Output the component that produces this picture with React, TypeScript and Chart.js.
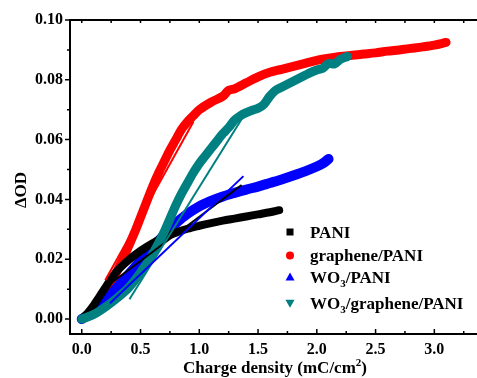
import React, { useEffect, useRef } from "react";
import { Chart, registerables } from "chart.js";

Chart.register(...registerables);

const FONT = '"Liberation Serif", "Times New Roman", serif';

// PANI (black squares)
const paniX = [0, 0.05, 0.1, 0.15, 0.2, 0.25, 0.3, 0.35, 0.4, 0.5, 0.6, 0.7, 0.8, 0.9, 1.0, 1.1, 1.2, 1.3, 1.4, 1.5, 1.6, 1.68];
const paniY = [0, 0.002, 0.0045, 0.0075, 0.0105, 0.0135, 0.016, 0.018, 0.0198, 0.0228, 0.0253, 0.0273, 0.0289, 0.0302, 0.0312, 0.0321, 0.0329, 0.0336, 0.0343, 0.035, 0.0357, 0.0364];

// graphene/PANI (red circles)
const grapheneX = [0, 0.05, 0.1, 0.15, 0.2, 0.25, 0.3, 0.35, 0.4, 0.45, 0.5, 0.55, 0.6, 0.65, 0.7, 0.75, 0.8, 0.85, 0.9, 0.95, 1.0, 1.1, 1.2, 1.25, 1.3, 1.4, 1.5, 1.6, 1.7, 1.8, 1.9, 2.0, 2.1, 2.2, 2.3, 2.4, 2.5, 2.6, 2.7, 2.8, 2.9, 3.0, 3.1];
const grapheneY = [0, 0.0013, 0.003, 0.0055, 0.0085, 0.012, 0.016, 0.02, 0.0245, 0.029, 0.034, 0.039, 0.044, 0.0485, 0.0525, 0.0565, 0.06, 0.0635, 0.066, 0.068, 0.07, 0.0725, 0.0745, 0.0765, 0.077, 0.079, 0.081, 0.0825, 0.0835, 0.0845, 0.0855, 0.0865, 0.0872, 0.0878, 0.0882, 0.0886, 0.089, 0.0896, 0.09, 0.0905, 0.091, 0.0916, 0.0925];

// WO3/PANI (blue triangles)
const wo3X = [0, 0.1, 0.2, 0.3, 0.4, 0.5, 0.6, 0.7, 0.8, 0.9, 1.0, 1.1, 1.2, 1.3, 1.4, 1.5, 1.6, 1.7, 1.8, 1.9, 2.0, 2.05, 2.1];
const wo3Y = [0, 0.0025, 0.006, 0.0105, 0.015, 0.0195, 0.024, 0.028, 0.032, 0.0352, 0.0377, 0.0395, 0.041, 0.0422, 0.0433, 0.0443, 0.0455, 0.0467, 0.048, 0.0494, 0.051, 0.052, 0.0535];

// WO3/graphene/PANI (teal inverted triangles)
const wgpX = [0, 0.1, 0.2, 0.3, 0.4, 0.5, 0.6, 0.7, 0.75, 0.8, 0.85, 0.9, 0.95, 1.0, 1.05, 1.1, 1.15, 1.2, 1.25, 1.3, 1.35, 1.4, 1.45, 1.5, 1.55, 1.6, 1.65, 1.7, 1.75, 1.8, 1.85, 1.9, 1.95, 2.0, 2.05, 2.1, 2.15, 2.2, 2.26];
const wgpY = [0, 0.0015, 0.004, 0.007, 0.0105, 0.0155, 0.0215, 0.029, 0.0335, 0.038, 0.042, 0.0455, 0.049, 0.052, 0.0545, 0.057, 0.0595, 0.062, 0.064, 0.0665, 0.068, 0.069, 0.0698, 0.0705, 0.0718, 0.0745, 0.0765, 0.0775, 0.0785, 0.0795, 0.0805, 0.0815, 0.0825, 0.0833, 0.0838, 0.0855, 0.0853, 0.0868, 0.0878];

// linear fits (endpoints)
const paniFitX = [0.14, 1.36];
const paniFitY = [0.0088, 0.0448];
const grapheneFitX = [0.2, 0.95];
const grapheneFitY = [0.013, 0.066];
const wo3FitX = [0.24, 1.376];
const wo3FitY = [0.0053, 0.0478];
const wgpFitX = [0.406, 1.37];
const wgpFitY = [0.0066, 0.0675];

const legendNames = ["PANI", "graphene/PANI", "WO3/PANI", "WO3/graphene/PANI"];
const legendColors = ["#000000", "#ff0000", "#0000ff", "#008080"];
const legendShapes = ["square", "circle", "triangle", "invtriangle"];

const xMajorTicks = [0, 0.5, 1, 1.5, 2, 2.5, 3];
const xMinorTicks = [0.25, 0.75, 1.25, 1.75, 2.25, 2.75, 3.25];
const yMajorTicks = [0, 0.02, 0.04, 0.06, 0.08, 0.1];
const yMinorTicks = [0.01, 0.03, 0.05, 0.07, 0.09];

const xTitle = "Charge density (mC/cm";
const xTitleSup = "2";
const yTitle = "\u0394OD";

const zip = (xs: number[], ys: number[]) => xs.map((x, i) => ({ x, y: ys[i] }));

function drawRich(ctx: CanvasRenderingContext2D, text: string, x: number, y: number) {
  const big = `bold 17px ${FONT}`;
  const small = `bold 11px ${FONT}`;
  if (text.startsWith("WO3")) {
    ctx.font = big;
    ctx.fillText("WO", x, y);
    let cx = x + ctx.measureText("WO").width;
    ctx.font = small;
    ctx.fillText("3", cx, y + 4);
    cx += ctx.measureText("3").width;
    ctx.font = big;
    ctx.fillText(text.slice(3), cx, y);
  } else {
    ctx.font = big;
    ctx.fillText(text, x, y);
  }
}

const customPlugin = {
  id: "customDecor",
  afterDraw(chart: any) {
    const ctx: CanvasRenderingContext2D = chart.ctx;
    const { left, right, top, bottom } = chart.chartArea;
    const xs = chart.scales.x;
    const ys = chart.scales.y;
    ctx.save();
    ctx.strokeStyle = "#000";
    ctx.lineWidth = 2;
    ctx.beginPath();
    ctx.moveTo(left - 1, top);
    ctx.lineTo(right + 1, top);
    ctx.moveTo(left, top);
    ctx.lineTo(left, bottom + 1);
    ctx.moveTo(left - 1, bottom);
    ctx.lineTo(right + 1, bottom);
    ctx.moveTo(right, top);
    ctx.lineTo(right, bottom);
    ctx.stroke();

    ctx.lineWidth = 1.5;
    ctx.beginPath();
    for (const v of yMajorTicks) {
      const p = ys.getPixelForValue(v);
      ctx.moveTo(left - 5, p);
      ctx.lineTo(left, p);
    }
    for (const v of yMinorTicks) {
      const p = ys.getPixelForValue(v);
      ctx.moveTo(left - 3, p);
      ctx.lineTo(left, p);
    }
    for (const v of xMajorTicks) {
      const p = xs.getPixelForValue(v);
      ctx.moveTo(p, bottom);
      ctx.lineTo(p, bottom - 5);
      ctx.moveTo(p, top - 1);
      ctx.lineTo(p, top + 3);
    }
    for (const v of xMinorTicks) {
      const p = xs.getPixelForValue(v);
      ctx.moveTo(p, bottom);
      ctx.lineTo(p, bottom - 3);
      ctx.moveTo(p, top - 1);
      ctx.lineTo(p, top + 3);
    }
    ctx.stroke();

    // axis titles
    ctx.fillStyle = "#000";
    ctx.textAlign = "left";
    ctx.textBaseline = "alphabetic";
    ctx.font = `bold 17px ${FONT}`;
    const w1 = ctx.measureText(xTitle).width;
    ctx.font = `bold 11px ${FONT}`;
    const w2 = ctx.measureText(xTitleSup).width;
    ctx.font = `bold 17px ${FONT}`;
    const w3 = ctx.measureText(")").width;
    const total = w1 + w2 + w3;
    const cx = 275;
    let sx = cx - total / 2;
    const by = 372.5;
    ctx.fillText(xTitle, sx, by);
    sx += w1;
    ctx.font = `bold 11px ${FONT}`;
    ctx.fillText(xTitleSup, sx, by - 7);
    sx += w2;
    ctx.font = `bold 17px ${FONT}`;
    ctx.fillText(")", sx, by);

    ctx.save();
    ctx.translate(26, 190);
    ctx.rotate(-Math.PI / 2);
    ctx.textAlign = "center";
    ctx.fillText(yTitle, 0, 0);
    ctx.restore();

    // legend
    const rowsY = [232, 255.5, 277, 303.3];
    const mx = 290;
    const tx = 310;
    legendNames.forEach((name, i) => {
      const cy = rowsY[i];
      ctx.fillStyle = legendColors[i];
      ctx.beginPath();
      const s = legendShapes[i];
      if (s === "square") {
        ctx.rect(mx - 3.5, cy - 3.5, 7, 7);
      } else if (s === "circle") {
        ctx.arc(mx, cy, 4, 0, Math.PI * 2);
      } else if (s === "triangle") {
        ctx.moveTo(mx, cy - 4.5);
        ctx.lineTo(mx + 4.5, cy + 3.5);
        ctx.lineTo(mx - 4.5, cy + 3.5);
        ctx.closePath();
      } else {
        ctx.moveTo(mx, cy + 4.5);
        ctx.lineTo(mx + 4.5, cy - 3.5);
        ctx.lineTo(mx - 4.5, cy - 3.5);
        ctx.closePath();
      }
      ctx.fill();
      ctx.fillStyle = "#000";
      drawRich(ctx, name, tx, cy + 5.5);
    });
    ctx.restore();
  },
};

export default function App() {
  const ref = useRef<HTMLCanvasElement | null>(null);
  useEffect(() => {
    if (!ref.current) return;
    const band = (label: string, xs: number[], ys: number[], color: string, w: number, order: number) => ({
      label,
      data: zip(xs, ys),
      borderColor: color,
      backgroundColor: color,
      borderWidth: w,
      pointRadius: 0,
      showLine: true,
      fill: false,
      tension: 0.3,
      borderCapStyle: "round",
      borderJoinStyle: "round",
      order,
    });
    const fit = (label: string, xs: number[], ys: number[], color: string) => ({
      label,
      data: zip(xs, ys),
      borderColor: color,
      backgroundColor: color,
      borderWidth: 2,
      pointRadius: 0,
      showLine: true,
      fill: false,
      tension: 0,
      order: 0,
    });
    const chart = new Chart(ref.current, {
      type: "scatter",
      data: {
        datasets: [
          band("graphene/PANI", grapheneX, grapheneY, "#ff0000", 9, 5),
          band("WO3/PANI", wo3X, wo3Y, "#0000ff", 10, 4),
          band("PANI", paniX, paniY, "#000000", 8, 3),
          band("WO3/graphene/PANI", wgpX, wgpY, "#008080", 9, 2),
          fit("graphene fit", grapheneFitX, grapheneFitY, "#ff0000"),
          fit("WO3 fit", wo3FitX, wo3FitY, "#0000ff"),
          fit("WO3/graphene fit", wgpFitX, wgpFitY, "#008080"),
          fit("PANI fit", paniFitX, paniFitY, "#000000"),
        ] as any,
      },
      options: {
        animation: false,
        responsive: false,
        devicePixelRatio: 1,
        layout: { padding: { top: 20, right: 11, left: 0, bottom: 0 } },
        plugins: { legend: { display: false }, tooltip: { enabled: false } },
        scales: {
          x: {
            type: "linear",
            min: -0.1,
            max: 3.38,
            grid: { display: false, drawTicks: false },
            border: { display: false },
            ticks: {
              stepSize: 0.5,
              includeBounds: false,
              padding: 6,
              color: "#000",
              font: { family: FONT, size: 16, weight: "bold" },
              callback: (v: any) => Number(v).toFixed(1),
            },
            afterFit: (s: any) => {
              s.height = 44;
            },
          },
          y: {
            type: "linear",
            min: -0.005,
            max: 0.1,
            grid: { display: false, drawTicks: false },
            border: { display: false },
            ticks: {
              stepSize: 0.02,
              includeBounds: false,
              padding: 7,
              color: "#000",
              font: { family: FONT, size: 16, weight: "bold" },
              callback: (v: any) => Number(v).toFixed(2),
            },
            afterFit: (s: any) => {
              s.width = 70;
            },
          },
        },
      } as any,
      plugins: [customPlugin],
    });
    return () => chart.destroy();
  }, []);
  return (
    <div style={{ position: "fixed", left: 0, top: 0, width: 477, height: 378, overflow: "hidden", background: "#fff" }}>
      <canvas ref={ref} width={490} height={378} style={{ display: "block" }} />
    </div>
  );
}
